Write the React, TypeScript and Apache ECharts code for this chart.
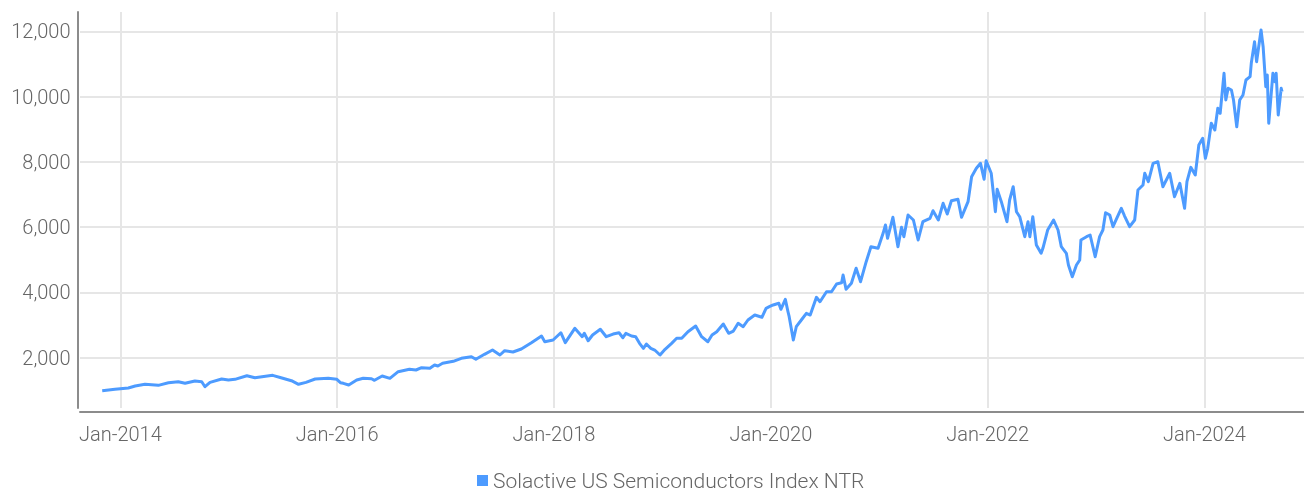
import React, { useEffect, useRef } from "react";
import * as echarts from "echarts";

const seriesName = "Solactive US Semiconductors Index NTR";

const dates: string[] = [
  "2013-11-01","2013-12-14","2014-01-28","2014-02-20","2014-03-25","2014-05-09","2014-06-12","2014-07-15","2014-08-07","2014-09-09",
  "2014-10-02","2014-10-13","2014-10-30","2014-12-08","2014-12-31","2015-01-22","2015-03-03","2015-03-30","2015-05-29","2015-06-26",
  "2015-07-31","2015-08-24","2015-09-18","2015-10-19","2015-12-02","2015-12-31","2016-01-12","2016-01-22","2016-02-09","2016-03-07",
  "2016-03-29","2016-04-26","2016-05-06","2016-06-01","2016-06-27","2016-07-25","2016-09-01","2016-09-23","2016-10-12","2016-11-09",
  "2016-11-25","2016-12-06","2016-12-22","2017-01-27","2017-02-23","2017-03-29","2017-04-13","2017-05-12","2017-06-08","2017-07-03",
  "2017-07-19","2017-08-16","2017-09-13","2017-10-17","2017-11-20","2017-12-01","2017-12-29","2018-01-24","2018-02-08","2018-03-12",
  "2018-03-29","2018-04-06","2018-04-13","2018-04-26","2018-05-11","2018-06-06","2018-06-26","2018-07-19","2018-08-08","2018-08-21",
  "2018-08-31","2018-09-19","2018-10-03","2018-10-16","2018-10-29","2018-11-08","2018-11-23","2018-12-06","2018-12-24","2019-01-10",
  "2019-02-01","2019-02-18","2019-03-07","2019-03-28","2019-04-23","2019-05-13","2019-06-03","2019-06-17","2019-07-03","2019-07-25",
  "2019-08-12","2019-08-28","2019-09-13","2019-09-30","2019-10-16","2019-11-08","2019-12-02","2019-12-16","2019-12-27","2020-01-09",
  "2020-01-28","2020-02-04","2020-02-19","2020-02-28","2020-03-03","2020-03-17","2020-03-27","2020-04-13","2020-04-30","2020-05-13",
  "2020-06-03","2020-06-15","2020-07-07","2020-07-24","2020-08-10","2020-08-27","2020-09-01","2020-09-11","2020-09-29","2020-10-15",
  "2020-10-30","2020-11-18","2020-12-04","2020-12-28","2021-01-14","2021-01-22","2021-01-29","2021-02-16","2021-03-05","2021-03-17",
  "2021-03-25","2021-04-08","2021-04-26","2021-05-12","2021-05-28","2021-06-21","2021-07-01","2021-07-19","2021-08-04","2021-08-18",
  "2021-09-01","2021-09-23","2021-10-05","2021-10-27","2021-11-08","2021-11-24","2021-12-08","2021-12-20","2021-12-27","2022-01-13",
  "2022-01-27","2022-02-02","2022-02-16","2022-03-07","2022-03-16","2022-03-28","2022-04-08","2022-04-19","2022-05-06","2022-05-17",
  "2022-05-23","2022-06-02","2022-06-14","2022-06-30","2022-07-06","2022-07-22","2022-08-11","2022-08-26","2022-09-06","2022-09-23",
  "2022-09-30","2022-10-13","2022-10-27","2022-11-07","2022-11-11","2022-11-30","2022-12-12","2022-12-29","2023-01-13","2023-01-24",
  "2023-02-02","2023-02-16","2023-02-27","2023-03-10","2023-03-27","2023-04-07","2023-04-24","2023-05-11","2023-05-22","2023-06-08",
  "2023-06-14","2023-06-26","2023-07-12","2023-07-28","2023-08-14","2023-09-06","2023-09-22","2023-10-10","2023-10-26","2023-11-03",
  "2023-11-16","2023-12-01","2023-12-13","2023-12-26","2024-01-04","2024-01-12","2024-01-24","2024-02-05","2024-02-15","2024-02-23",
  "2024-03-07","2024-03-13","2024-03-21","2024-04-01","2024-04-08","2024-04-19","2024-04-29","2024-05-10","2024-05-20","2024-06-03",
  "2024-06-07","2024-06-18","2024-06-25","2024-07-10","2024-07-17","2024-07-26","2024-07-31","2024-08-05","2024-08-19","2024-08-26",
  "2024-08-30","2024-09-06","2024-09-16","2024-09-19"
];

const values: number[] = [
  982,1025,1065,1126,1178,1147,1228,1258,1209,1280,
  1258,1105,1239,1341,1310,1331,1442,1381,1454,1381,
  1289,1178,1239,1341,1362,1331,1228,1209,1157,1310,
  1362,1350,1301,1433,1362,1565,1638,1617,1687,1669,
  1770,1739,1822,1883,1975,2025,1945,2098,2230,2077,
  2208,2169,2261,2454,2659,2484,2537,2760,2454,2895,
  2720,2638,2742,2515,2690,2865,2638,2720,2760,2607,
  2742,2659,2638,2435,2282,2414,2282,2230,2077,2251,
  2435,2589,2589,2791,2966,2638,2484,2690,2791,3027,
  2742,2812,3049,2944,3150,3303,3233,3508,3558,3610,
  3662,3478,3784,3404,3251,2537,2944,3150,3355,3303,
  3846,3711,4017,4017,4254,4293,4530,4091,4275,4735,
  4324,4937,5397,5348,5808,6062,5655,6298,5397,5992,
  5704,6369,6216,5603,6164,6268,6501,6216,6728,6400,
  6808,6850,6298,6777,7543,7801,7954,7464,8034,7650,
  6470,7160,6777,6164,6829,7237,6470,6317,5704,6164,
  5704,6317,5449,5195,5348,5909,6216,5909,5397,5195,
  4836,4477,4836,4989,5603,5704,5756,5091,5704,5909,
  6440,6369,6010,6237,6574,6338,6010,6216,7135,7289,
  7648,7390,7954,8003,7237,7648,6930,7341,6574,7390,
  7830,7595,8515,8721,8107,8414,9181,8975,9641,9487,
  10713,9895,10254,10202,9895,9076,9895,10048,10508,10610,
  11020,11682,11069,12041,11529,10303,10662,9181,10713,10456,
  10713,9435,10254,10150
];

const xMin = 2013.628;
const xMax = 2024.918;
const yMin = 452;
const yMax = 12593;

function toYear(d: string): number {
  const dt = new Date(d + "T00:00:00Z");
  const y = dt.getUTCFullYear();
  const start = Date.UTC(y, 0, 1);
  const end = Date.UTC(y + 1, 0, 1);
  return y + (dt.getTime() - start) / (end - start);
}

const FONT = "Roboto, 'Noto Sans', sans-serif";
const TEXT_COLOR = "#666666";
const LINE_COLOR = "#4d9bff";

export default function App() {
  const ref = useRef<HTMLDivElement>(null);
  useEffect(() => {
    if (!ref.current) return;
    const chart = echarts.init(ref.current, undefined, { renderer: "svg" });
    const data = dates.map((d, i) => [toYear(d), values[i]]);
    chart.setOption({
      animation: false,
      grid: { left: 80, right: 0, top: 12, bottom: 86, containLabel: false },
      legend: {
        data: [{ name: seriesName, icon: "rect" }],
        left: 472,
        top: 465,
        itemWidth: 11,
        itemHeight: 11,
        itemGap: 10,
        textStyle: { fontFamily: FONT, fontSize: 21, fontWeight: 300, color: TEXT_COLOR },
      },
      xAxis: {
        type: "value",
        min: xMin,
        max: xMax,
        splitNumber: 5,
        offset: 3.5,
        axisLine: { show: true, lineStyle: { color: "#8c8c8c", width: 2 } },
        axisTick: { show: false },
        axisLabel: {
          showMinLabel: false,
          showMaxLabel: false,
          margin: 12,
          fontFamily: FONT,
          fontSize: 20,
          fontWeight: 300,
          color: TEXT_COLOR,
          formatter: (v: number) =>
            Math.abs(v - Math.round(v)) < 0.01 ? "Jan-" + Math.round(v) : "",
        },
        splitLine: {
          show: true,
          showMinLine: false,
          showMaxLine: false,
          lineStyle: { color: "#e6e6e6", width: 2 },
        },
      },
      yAxis: {
        type: "value",
        min: yMin,
        max: yMax,
        splitNumber: 6,
        offset: 2.5,
        axisLine: { show: true, lineStyle: { color: "#8c8c8c", width: 2 } },
        axisTick: { show: false },
        axisLabel: {
          showMinLabel: false,
          showMaxLabel: false,
          margin: 7,
          lineHeight: 20,
          padding: [6, 0, 0, 0],
          fontFamily: FONT,
          fontSize: 20,
          fontWeight: 300,
          color: TEXT_COLOR,
          formatter: (v: number) =>
            Math.abs(v % 2000) < 1 ? v.toLocaleString("en-US") : "",
        },
        splitLine: {
          show: true,
          showMinLine: false,
          showMaxLine: false,
          lineStyle: { color: "#e6e6e6", width: 2 },
        },
      },
      series: [
        {
          name: seriesName,
          type: "line",
          data,
          symbol: "none",
          smooth: false,
          lineStyle: { color: LINE_COLOR, width: 3, join: "round" },
          itemStyle: { color: LINE_COLOR },
        },
      ],
    });
    return () => chart.dispose();
  }, []);
  return (
    <div
      ref={ref}
      style={{ position: "fixed", left: 0, top: 0, width: 1304, height: 494 }}
    />
  );
}
